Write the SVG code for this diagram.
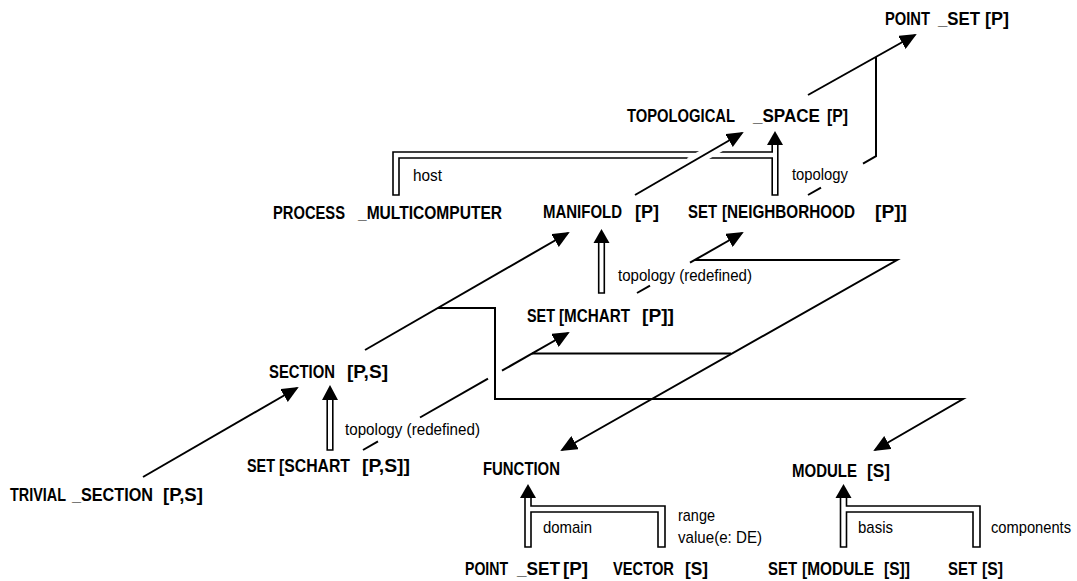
<svg xmlns="http://www.w3.org/2000/svg" width="1077" height="581" viewBox="0 0 1077 581">
<defs>
<marker id="ah" viewBox="0 0 17 15" refX="15" refY="7.5" markerWidth="17" markerHeight="15" markerUnits="userSpaceOnUse" orient="auto"><path d="M0,0 L17,7.5 L0,15 Z" fill="#000"/></marker>
</defs>
<style>
.n{font-family:"Liberation Sans",Arial,sans-serif;font-weight:bold;font-size:18px;fill:#000}
.l{font-family:"Liberation Sans",Arial,sans-serif;font-size:17px;fill:#000}
.s{fill:none;stroke:#000;stroke-width:2}
.a{marker-end:url(#ah)}
.d{fill:none;stroke:#000;stroke-width:1.6}
.h{fill:#000}
.w{stroke:#fff;stroke-width:12}
</style>
<rect width="1077" height="581" fill="#fff"/>
<g id="connectors">
<line class="s a" x1="143" y1="477" x2="297" y2="388"/>
<line class="s a" x1="365" y1="350" x2="568" y2="233"/>
<path class="s a" d="M438,308 H495 V399 H963 L875,450"/>
<line class="s" x1="363" y1="450" x2="378" y2="441.4"/>
<line class="s" x1="420" y1="417.5" x2="488" y2="378.7"/>
<line class="s a" x1="502" y1="370.7" x2="568" y2="333"/>
<line class="s" x1="532" y1="353.5" x2="731" y2="353.5"/>
<line class="s" x1="637" y1="293" x2="650" y2="285.6"/>
<line class="s a" x1="690" y1="262.7" x2="742" y2="233"/>
<path class="s a" d="M694.8,260 H897 L562,450"/>
<path class="d" d="M772.2,145 V152 H393 V195 H399 V158 H772.2 V195 H777.8 V145"/>
<path class="h" d="M767,145 L775,131 L783,145 Z"/>
<line class="w" x1="690" y1="163.1" x2="725" y2="142.9"/>
<line class="s a" x1="635" y1="195" x2="742" y2="133"/>
<line class="s a" x1="808" y1="95" x2="915" y2="35"/>
<line class="s" x1="808" y1="195" x2="821" y2="187.6"/>
<path class="s" d="M863,163.6 L876,156.2 V57"/>
<path class="d" d="M327.2,400 V450 H332.8 V400"/>
<path class="h" d="M322,400 L330,385 L338,400 Z"/>
<path class="d" d="M598.7,243 V293 H604.3 V243"/>
<path class="h" d="M593.5,243 L601.5,229 L609.5,243 Z"/>
<path class="d" d="M531,498 V506 H665 V547 H658 V512 H531 V547 H525 V498"/>
<path class="h" d="M520,498 L528,484 L536,498 Z"/>
<path class="d" d="M846.5,498 V506 H980 V547 H973 V512 H846.5 V547 H840.5 V498"/>
<path class="h" d="M835.5,498 L843.5,484 L851.5,498 Z"/>
</g>
<g id="labels">
<text class="l" x="413" y="181" textLength="29" lengthAdjust="spacingAndGlyphs">host</text>
<text class="l" x="792" y="180" textLength="56" lengthAdjust="spacingAndGlyphs">topology</text>
<text class="l" x="618" y="281" textLength="134" lengthAdjust="spacingAndGlyphs">topology (redefined)</text>
<text class="l" x="345" y="435" textLength="135" lengthAdjust="spacingAndGlyphs">topology (redefined)</text>
<text class="l" x="543" y="533" textLength="49" lengthAdjust="spacingAndGlyphs">domain</text>
<text class="l" x="678" y="521" textLength="37" lengthAdjust="spacingAndGlyphs">range</text>
<text class="l" x="678" y="543" textLength="84" lengthAdjust="spacingAndGlyphs">value(e: DE)</text>
<text class="l" x="858" y="533" textLength="35" lengthAdjust="spacingAndGlyphs">basis</text>
<text class="l" transform="scale(0.9,1)" x="1101.11" y="533" textLength="88.89" lengthAdjust="spacingAndGlyphs">components</text>
</g>
<g id="point-set-top"><text class="n" transform="scale(0.82,1)" y="25"><tspan x="1079.27" textLength="54.88" lengthAdjust="spacingAndGlyphs">POINT</tspan> <tspan x="1143.9" textLength="51.22" lengthAdjust="spacingAndGlyphs">_SET</tspan> <tspan x="1201.22" textLength="29.27" lengthAdjust="spacingAndGlyphs">[P]</tspan></text></g>
<g id="topological-space"><text class="n" transform="scale(0.82,1)" y="122"><tspan x="764.63" textLength="131.71" lengthAdjust="spacingAndGlyphs">TOPOLOGICAL</tspan> <tspan x="918.29" textLength="81.71" lengthAdjust="spacingAndGlyphs">_SPACE</tspan> <tspan x="1008.54" textLength="25.61" lengthAdjust="spacingAndGlyphs">[P]</tspan></text></g>
<g id="process-multicomputer"><text class="n" transform="scale(0.82,1)" y="219"><tspan x="332.93" textLength="87.8" lengthAdjust="spacingAndGlyphs">PROCESS</tspan> <tspan x="436.59" textLength="175.61" lengthAdjust="spacingAndGlyphs">_MULTICOMPUTER</tspan></text></g>
<g id="manifold"><text class="n" transform="scale(0.82,1)" y="218"><tspan x="662.2" textLength="96.34" lengthAdjust="spacingAndGlyphs">MANIFOLD</tspan> <tspan x="774.39" textLength="29.27" lengthAdjust="spacingAndGlyphs">[P]</tspan></text></g>
<g id="set-neighborhood"><text class="n" transform="scale(0.82,1)" y="218"><tspan x="839.02" textLength="35.37" lengthAdjust="spacingAndGlyphs">SET</tspan> <tspan x="880.49" textLength="162.2" lengthAdjust="spacingAndGlyphs">[NEIGHBORHOOD</tspan> <tspan x="1067.07" textLength="39.02" lengthAdjust="spacingAndGlyphs">[P]]</tspan></text></g>
<g id="set-mchart"><text class="n" transform="scale(0.82,1)" y="322"><tspan x="642.68" textLength="34.15" lengthAdjust="spacingAndGlyphs">SET</tspan> <tspan x="681.71" textLength="86.59" lengthAdjust="spacingAndGlyphs">[MCHART</tspan> <tspan x="782.93" textLength="39.02" lengthAdjust="spacingAndGlyphs">[P]]</tspan></text></g>
<g id="section"><text class="n" transform="scale(0.82,1)" y="378"><tspan x="328.05" textLength="80.49" lengthAdjust="spacingAndGlyphs">SECTION</tspan> <tspan x="423.17" textLength="50" lengthAdjust="spacingAndGlyphs">[P,S]</tspan></text></g>
<g id="set-schart"><text class="n" transform="scale(0.82,1)" y="472"><tspan x="301.22" textLength="34.15" lengthAdjust="spacingAndGlyphs">SET</tspan> <tspan x="340.24" textLength="86.59" lengthAdjust="spacingAndGlyphs">[SCHART</tspan> <tspan x="441.46" textLength="58.54" lengthAdjust="spacingAndGlyphs">[P,S]]</tspan></text></g>
<g id="trivial-section"><text class="n" transform="scale(0.82,1)" y="501"><tspan x="12.2" textLength="68.29" lengthAdjust="spacingAndGlyphs">TRIVIAL</tspan> <tspan x="87.8" textLength="98.78" lengthAdjust="spacingAndGlyphs">_SECTION</tspan> <tspan x="198.78" textLength="48.78" lengthAdjust="spacingAndGlyphs">[P,S]</tspan></text></g>
<g id="function"><text class="n" transform="scale(0.82,1)" x="589.02" y="475" textLength="93.9" lengthAdjust="spacingAndGlyphs">FUNCTION</text></g>
<g id="module"><text class="n" transform="scale(0.82,1)" y="477"><tspan x="965.85" textLength="79.27" lengthAdjust="spacingAndGlyphs">MODULE</tspan> <tspan x="1057.32" textLength="28.05" lengthAdjust="spacingAndGlyphs">[S]</tspan></text></g>
<g id="point-set-bottom"><text class="n" transform="scale(0.82,1)" y="575"><tspan x="567.07" textLength="52.44" lengthAdjust="spacingAndGlyphs">POINT</tspan> <tspan x="630.49" textLength="52.44" lengthAdjust="spacingAndGlyphs">_SET</tspan> <tspan x="686.59" textLength="30.49" lengthAdjust="spacingAndGlyphs">[P]</tspan></text></g>
<g id="vector"><text class="n" transform="scale(0.82,1)" y="575"><tspan x="747.56" textLength="74.39" lengthAdjust="spacingAndGlyphs">VECTOR</tspan> <tspan x="835.37" textLength="28.05" lengthAdjust="spacingAndGlyphs">[S]</tspan></text></g>
<g id="set-module"><text class="n" transform="scale(0.82,1)" y="575"><tspan x="936.59" textLength="35.37" lengthAdjust="spacingAndGlyphs">SET</tspan> <tspan x="978.05" textLength="87.8" lengthAdjust="spacingAndGlyphs">[MODULE</tspan> <tspan x="1078.05" textLength="31.71" lengthAdjust="spacingAndGlyphs">[S]]</tspan></text></g>
<g id="set-s"><text class="n" transform="scale(0.82,1)" y="575"><tspan x="1156.1" textLength="35.37" lengthAdjust="spacingAndGlyphs">SET</tspan> <tspan x="1197.56" textLength="25.61" lengthAdjust="spacingAndGlyphs">[S]</tspan></text></g>
</svg>
